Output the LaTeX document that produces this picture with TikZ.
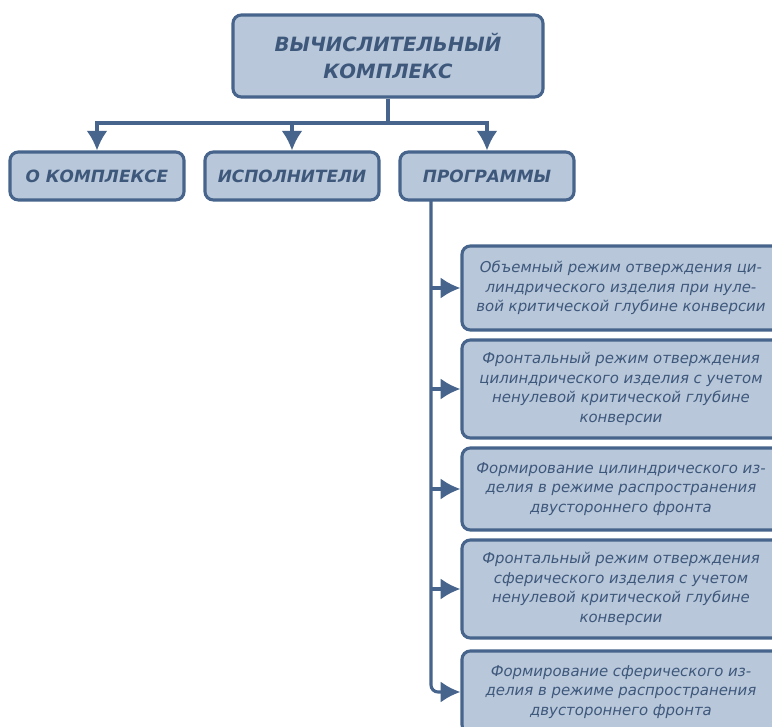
\documentclass[tikz,border=0pt]{standalone}
\usepackage{fontspec}
\setsansfont{DejaVu Sans}
\usepackage{tikz}
\usetikzlibrary{arrows.meta,positioning}
\colorlet{boxfill}{rgb,255:red,184;green,199;blue,217}
\colorlet{boxline}{rgb,255:red,70;green,100;blue,140}
\colorlet{boxtext}{rgb,255:red,62;green,88;blue,124}
\tikzset{
  head/.style={draw=boxline,fill=boxfill,line width=2.2pt,rounded corners=6pt,
    text=boxtext,font=\sffamily\bfseries\itshape\fontsize{12}{15}\selectfont,
    minimum width=4.35cm,minimum height=1.2cm,align=center,inner sep=2pt},
  prog/.style={draw=boxline,fill=boxfill,line width=2.2pt,rounded corners=6pt,
    text=boxtext,font=\sffamily\itshape\fontsize{10.6}{14}\selectfont,
    minimum width=7.95cm,align=center,inner sep=2pt},
  link/.style={draw=boxline,line width=2.2pt,-{Latex[length=14pt,width=15pt]}},
}
\begin{document}
\begin{tikzpicture}[x=0.025cm,y=-0.025cm]
\clip (0,0) rectangle (772,727);
\fill[white] (0,0) rectangle (772,727);
% top level
\node[head,minimum width=7.75cm,minimum height=2.05cm,font=\sffamily\bfseries\itshape\fontsize{14}{19}\selectfont]
  (top) at (388,56) {ВЫЧИСЛИТЕЛЬНЫЙ\\КОМПЛЕКС};
\node[head] (about) at (97,176) {О КОМПЛЕКСЕ};
\node[head] (users) at (292,176) {ИСПОЛНИТЕЛИ};
\node[head] (progs) at (487,176) {ПРОГРАММЫ};
% program list
\node[prog,minimum height=2.1cm] (p1) at (621,288)
  {Объемный режим отверждения ци-\\линдрического изделия при нуле-\\вой критической глубине конверсии};
\node[prog,minimum height=2.45cm] (p2) at (621,389)
  {Фронтальный режим отверждения\\цилиндрического изделия с учетом\\ненулевой критической глубине\\конверсии};
\node[prog,minimum height=2.05cm] (p3) at (621,489)
  {Формирование цилиндрического из-\\делия в режиме распространения\\двустороннего фронта};
\node[prog,minimum height=2.45cm] (p4) at (621,589)
  {Фронтальный режим отверждения\\сферического изделия с учетом\\ненулевой критической глубине\\конверсии};
\node[prog,minimum height=2.05cm] (p5) at (621,692)
  {Формирование сферического из-\\делия в режиме распространения\\двустороннего фронта};
% connectors
\coordinate (split) at (388,123);
\coordinate (trunk) at (431,200);
\draw[link] (top.south) -- (split) -| (about.north);
\draw[link] (split) -| (progs.north);
\draw[link] (split -| users.north) -- (users.north);
\foreach \p in {p1,p2,p3,p4}
  \draw[link] (trunk |- \p.west) -- (\p.west);
\draw[link,rounded corners=5pt] (trunk) |- (p5.west);
\end{tikzpicture}
\end{document}
